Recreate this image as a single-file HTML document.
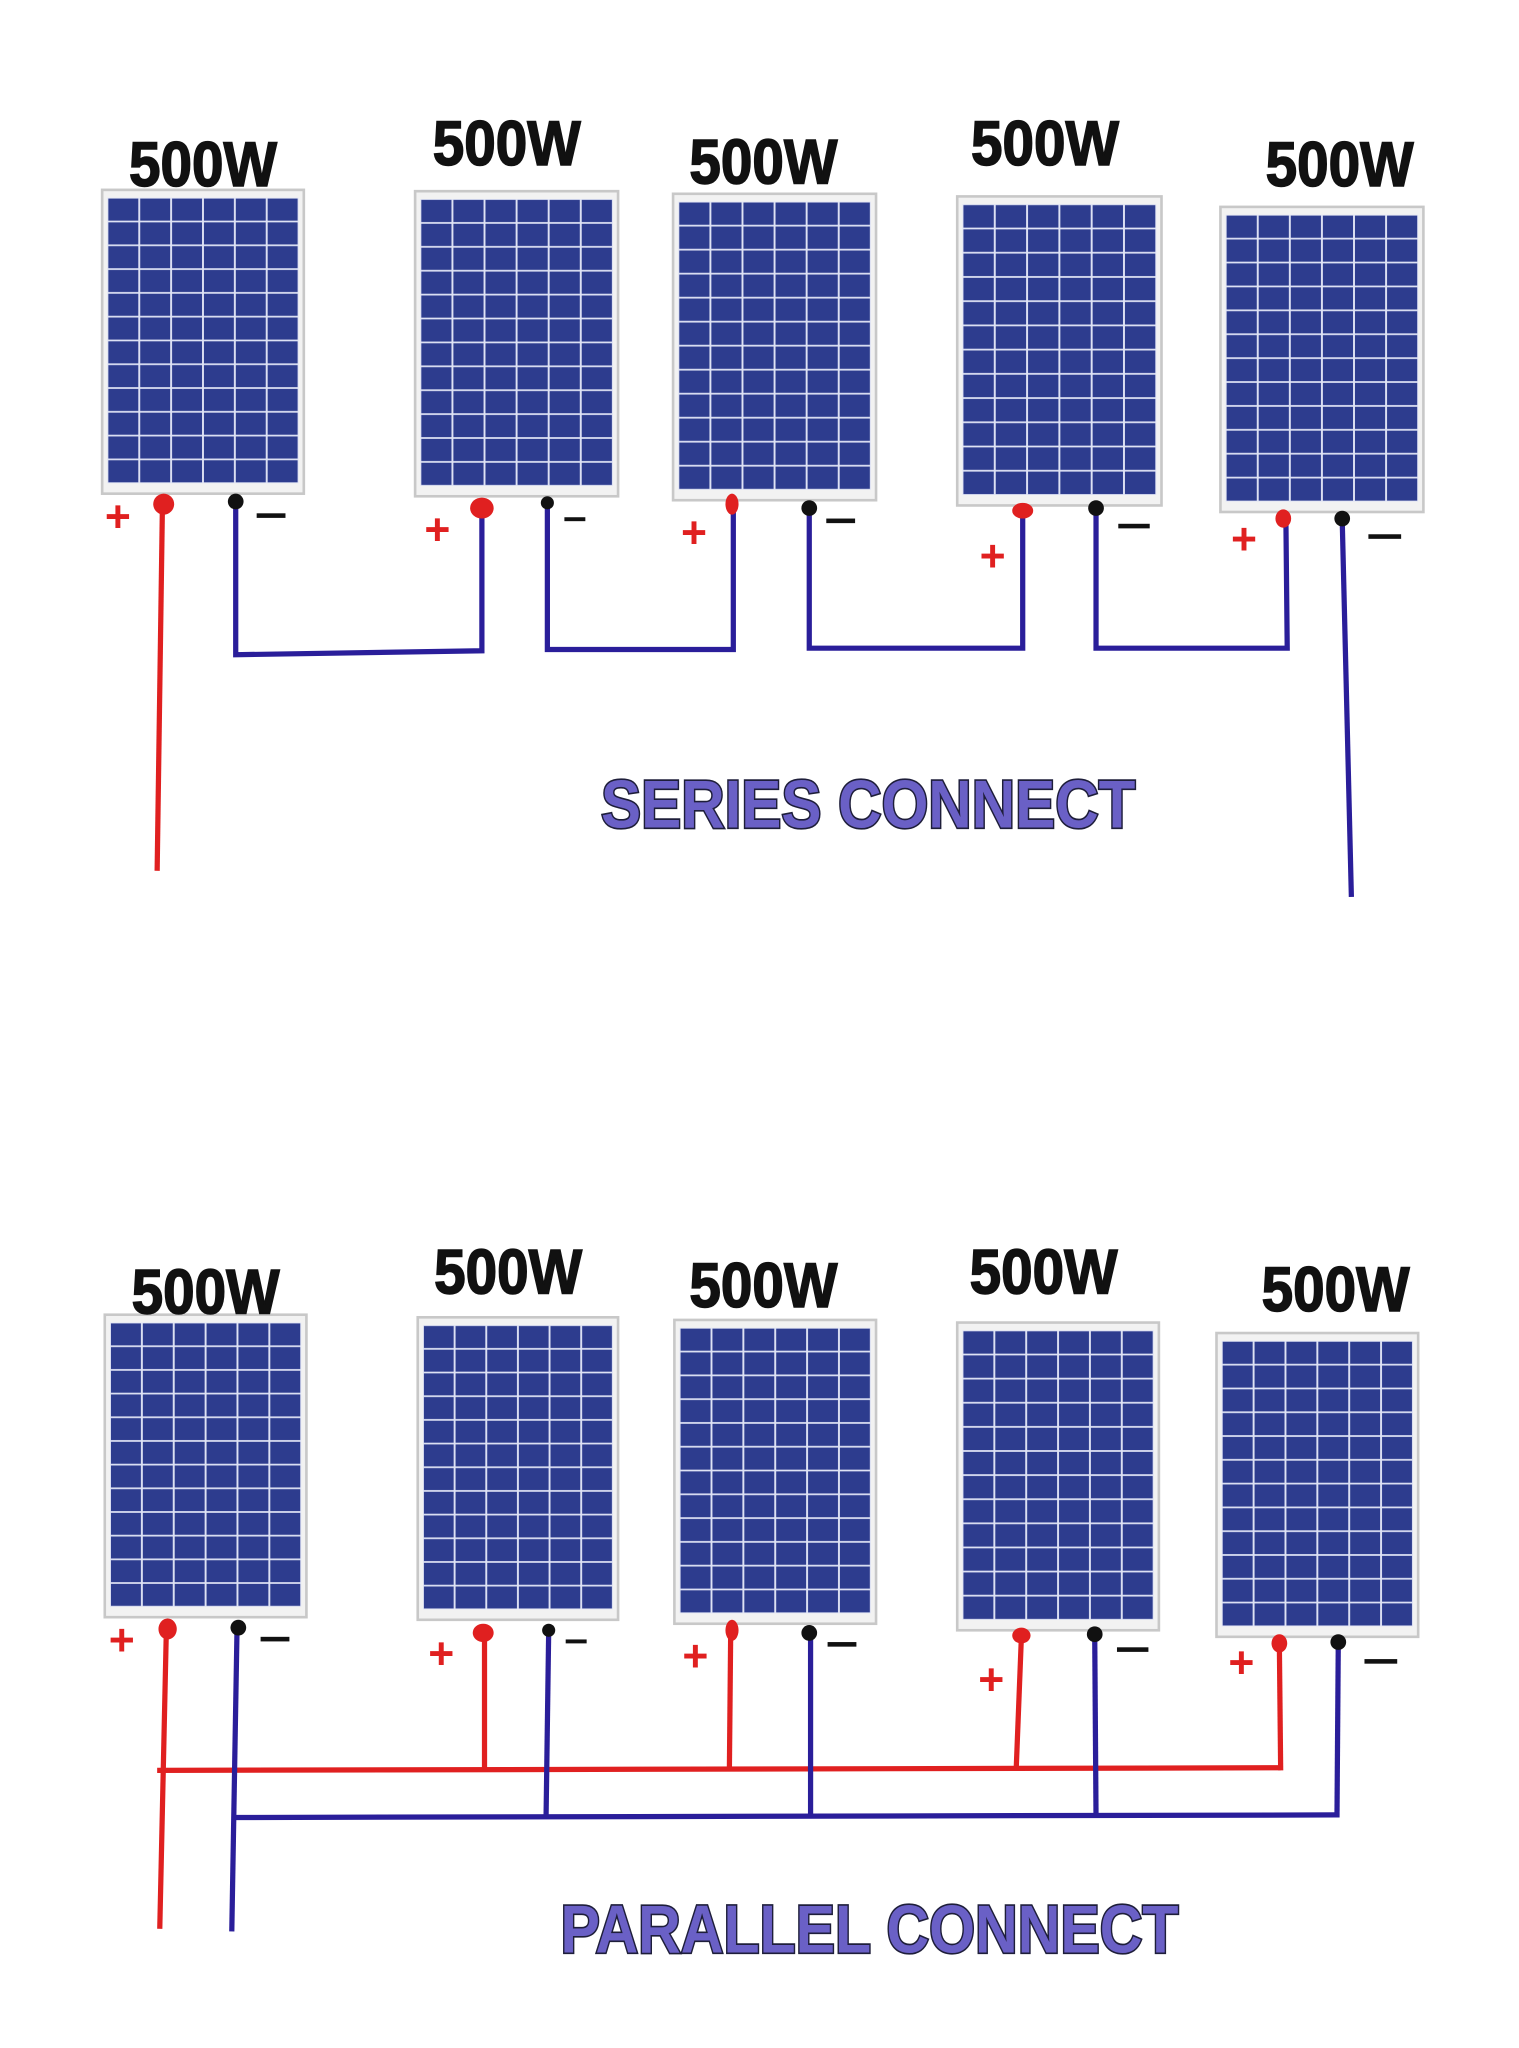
<!DOCTYPE html>
<html><head><meta charset="utf-8"><style>html,body{margin:0;padding:0;background:#fff}svg{display:block}</style></head>
<body>
<svg width="1519" height="2048" viewBox="0 0 1160 1564" xmlns="http://www.w3.org/2000/svg">
<defs>
<pattern id="cells" patternUnits="objectBoundingBox" patternContentUnits="objectBoundingBox" width="0.16667" height="0.08333">
<rect x="0" y="0" width="0.16667" height="0.08333" fill="#dfe3f5"/>
<rect x="0.005" y="0.003" width="0.1567" height="0.0773" fill="#2d3c8e"/>
</pattern>
</defs>
<rect width="1160" height="1564" fill="#fff"/>
<g font-family="Liberation Sans, Arial, sans-serif" font-weight="bold">
<g>
<rect x="78" y="145" width="154" height="232" fill="#f2f2f2" stroke="#c8c8c8" stroke-width="2"/>
<rect x="82" y="151" width="146" height="218" fill="url(#cells)"/>
<rect x="317" y="146" width="155" height="233" fill="#f2f2f2" stroke="#c8c8c8" stroke-width="2"/>
<rect x="321" y="152" width="147" height="219" fill="url(#cells)"/>
<rect x="514" y="148" width="155" height="234" fill="#f2f2f2" stroke="#c8c8c8" stroke-width="2"/>
<rect x="518" y="154" width="147" height="220" fill="url(#cells)"/>
<rect x="731" y="150" width="156" height="236" fill="#f2f2f2" stroke="#c8c8c8" stroke-width="2"/>
<rect x="735" y="156" width="148" height="222" fill="url(#cells)"/>
<rect x="932" y="158" width="155" height="233" fill="#f2f2f2" stroke="#c8c8c8" stroke-width="2"/>
<rect x="936" y="164" width="147" height="219" fill="url(#cells)"/>
</g>
<g font-size="48" fill="#111" stroke="#111" stroke-width="1.2" text-anchor="middle">
<text x="155" y="142" textLength="113" lengthAdjust="spacingAndGlyphs">500W</text>
<text x="387" y="126" textLength="113" lengthAdjust="spacingAndGlyphs">500W</text>
<text x="583" y="140" textLength="113" lengthAdjust="spacingAndGlyphs">500W</text>
<text x="798" y="126" textLength="113" lengthAdjust="spacingAndGlyphs">500W</text>
<text x="1023" y="142" textLength="113" lengthAdjust="spacingAndGlyphs">500W</text>
</g>
<g fill="none" stroke-width="4" stroke-linejoin="miter">
<path d="M124 388 L120 665" stroke="#e02020"/>
<path d="M180 384 L180 500 L368 497 L368 388" stroke="#2a1e9a"/>
<path d="M418 385 L418 496 L560 496 L560 386" stroke="#2a1e9a"/>
<path d="M618 389 L618 495 L781 495 L781 392" stroke="#2a1e9a"/>
<path d="M837 389 L837 495 L983 495 L982 397" stroke="#2a1e9a"/>
<path d="M1025 397 L1032 685" stroke="#2a1e9a"/>
</g>
<g>
<ellipse cx="125" cy="385" rx="8" ry="8" fill="#e02020"/>
<circle cx="180" cy="383" r="6" fill="#111"/>
<ellipse cx="368" cy="388" rx="9" ry="8" fill="#e02020"/>
<circle cx="418" cy="384" r="5" fill="#111"/>
<ellipse cx="559" cy="385" rx="5" ry="8" fill="#e02020"/>
<circle cx="618" cy="388" r="6" fill="#111"/>
<ellipse cx="781" cy="390" rx="8" ry="6" fill="#e02020"/>
<circle cx="837" cy="388" r="6" fill="#111"/>
<ellipse cx="980" cy="396" rx="6" ry="7" fill="#e02020"/>
<circle cx="1025" cy="396" r="6" fill="#111"/>
</g>
<g font-size="34" fill="#e02020" text-anchor="middle">
<text x="90" y="406">+</text><text x="334" y="416">+</text><text x="530" y="418">+</text><text x="758" y="436">+</text><text x="950" y="423">+</text>
</g>
<g fill="#111">
<rect x="196" y="392" width="22" height="3.5"/>
<rect x="431" y="395" width="16" height="3"/>
<rect x="631" y="396" width="22" height="3.5"/>
<rect x="854" y="400" width="24" height="3.5"/>
<rect x="1045" y="408" width="25" height="3.5"/>
</g>
<text x="663" y="632" font-size="52" text-anchor="middle" fill="#6a60c6" stroke="#1e1e3a" stroke-width="2.5" paint-order="stroke" textLength="408" lengthAdjust="spacingAndGlyphs">SERIES CONNECT</text>

<g>
<rect x="80" y="1004" width="154" height="231" fill="#f2f2f2" stroke="#c8c8c8" stroke-width="2"/>
<rect x="84" y="1010" width="146" height="217" fill="url(#cells)"/>
<rect x="319" y="1006" width="153" height="231" fill="#f2f2f2" stroke="#c8c8c8" stroke-width="2"/>
<rect x="323" y="1012" width="145" height="217" fill="url(#cells)"/>
<rect x="515" y="1008" width="154" height="232" fill="#f2f2f2" stroke="#c8c8c8" stroke-width="2"/>
<rect x="519" y="1014" width="146" height="218" fill="url(#cells)"/>
<rect x="731" y="1010" width="154" height="235" fill="#f2f2f2" stroke="#c8c8c8" stroke-width="2"/>
<rect x="735" y="1016" width="146" height="221" fill="url(#cells)"/>
<rect x="929" y="1018" width="154" height="232" fill="#f2f2f2" stroke="#c8c8c8" stroke-width="2"/>
<rect x="933" y="1024" width="146" height="218" fill="url(#cells)"/>
</g>
<g font-size="48" fill="#111" stroke="#111" stroke-width="1.2" text-anchor="middle">
<text x="157" y="1003" textLength="113" lengthAdjust="spacingAndGlyphs">500W</text>
<text x="388" y="988" textLength="113" lengthAdjust="spacingAndGlyphs">500W</text>
<text x="583" y="998" textLength="113" lengthAdjust="spacingAndGlyphs">500W</text>
<text x="797" y="988" textLength="113" lengthAdjust="spacingAndGlyphs">500W</text>
<text x="1020" y="1001" textLength="113" lengthAdjust="spacingAndGlyphs">500W</text>
</g>
<g fill="none" stroke-width="4">
<path d="M127 1246 L122 1473" stroke="#e02020"/>
<path d="M120 1352 L978 1350" stroke="#e02020"/>
<path d="M370 1248 L370 1352" stroke="#e02020"/>
<path d="M558 1246 L557 1352" stroke="#e02020"/>
<path d="M780 1250 L776 1352" stroke="#e02020"/>
<path d="M977 1256 L978 1352" stroke="#e02020"/>
<path d="M181 1244 L177 1475" stroke="#2a1e9a"/>
<path d="M177 1388 L1021 1386" stroke="#2a1e9a"/>
<path d="M419 1246 L417 1388" stroke="#2a1e9a"/>
<path d="M619 1248 L619 1388" stroke="#2a1e9a"/>
<path d="M836 1249 L837 1388" stroke="#2a1e9a"/>
<path d="M1022 1255 L1021 1388" stroke="#2a1e9a"/>
</g>
<g>
<ellipse cx="128" cy="1244" rx="7" ry="8" fill="#e02020"/>
<circle cx="182" cy="1243" r="6" fill="#111"/>
<ellipse cx="369" cy="1247" rx="8" ry="7" fill="#e02020"/>
<circle cx="419" cy="1245" r="5" fill="#111"/>
<ellipse cx="559" cy="1245" rx="5" ry="8" fill="#e02020"/>
<circle cx="618" cy="1247" r="6" fill="#111"/>
<ellipse cx="780" cy="1249" rx="7" ry="6" fill="#e02020"/>
<circle cx="836" cy="1248" r="6" fill="#111"/>
<ellipse cx="977" cy="1255" rx="6" ry="7" fill="#e02020"/>
<circle cx="1022" cy="1254" r="6" fill="#111"/>
</g>
<g font-size="34" fill="#e02020" text-anchor="middle">
<text x="93" y="1264">+</text><text x="337" y="1274">+</text><text x="531" y="1276">+</text><text x="757" y="1294">+</text><text x="948" y="1281">+</text>
</g>
<g fill="#111">
<rect x="199" y="1250" width="22" height="3.5"/>
<rect x="432" y="1252" width="16" height="3"/>
<rect x="632" y="1254" width="22" height="3.5"/>
<rect x="853" y="1258" width="24" height="3.5"/>
<rect x="1042" y="1267" width="25" height="3.5"/>
</g>
<text x="664" y="1491" font-size="52" text-anchor="middle" fill="#6a60c6" stroke="#1e1e3a" stroke-width="2.5" paint-order="stroke" textLength="472" lengthAdjust="spacingAndGlyphs">PARALLEL CONNECT</text>
</g>
</svg>
</body></html>
